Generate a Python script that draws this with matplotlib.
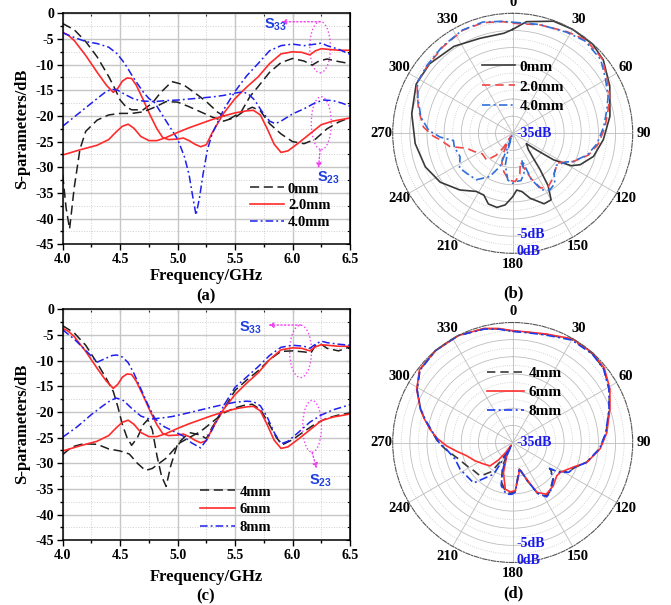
import numpy as np
import matplotlib
matplotlib.use("Agg")
import matplotlib.pyplot as plt
from matplotlib.patches import Ellipse
from matplotlib.ticker import MultipleLocator, FormatStrFormatter

plt.rcParams["font.family"] = ["Liberation Serif", "DejaVu Serif"]
plt.rcParams["font.weight"] = "bold"
plt.rcParams["axes.unicode_minus"] = False
plt.rcParams["mathtext.fontset"] = "custom"
plt.rcParams["mathtext.rm"] = "Liberation Sans:bold"
plt.rcParams["mathtext.it"] = "Liberation Sans:bold"
plt.rcParams["mathtext.bf"] = "Liberation Sans:bold"

# ---------------------------------------------------------------------------
# (a) S-parameters, 0 / 2.0 / 4.0 mm
# ---------------------------------------------------------------------------
a_f_s33_0 = [4.0, 4.1, 4.2, 4.3, 4.4, 4.45, 4.5, 4.55, 4.6, 4.7, 4.78, 4.85, 4.95, 5.05, 5.15,
             5.25, 5.35, 5.45, 5.55, 5.63, 5.7, 5.8, 5.9, 6.0, 6.1, 6.17, 6.23, 6.3, 6.4, 6.5]
a_s33_0 = [-2.0, -3.2, -5.5, -8.5, -12.3, -14.5, -16.9, -18.2, -18.8, -18.8, -17.5, -15.5, -13.3,
           -13.9, -15.5, -17.2, -19.3, -20.6, -19.3, -16.2, -14.3, -11.5, -9.6, -8.8, -9.3, -10.1,
           -9.3, -8.9, -9.4, -9.8]
a_f_s23_0 = [4.0, 4.03, 4.06, 4.1, 4.15, 4.2, 4.3, 4.4, 4.5, 4.6, 4.7, 4.8, 4.9, 5.0, 5.1, 5.2,
             5.3, 5.4, 5.5, 5.58, 5.65, 5.72, 5.8, 5.9, 6.0, 6.1, 6.2, 6.3, 6.4, 6.5]
a_s23_0 = [-31.5, -38.0, -42.0, -34.0, -26.5, -23.0, -20.8, -19.8, -19.5, -19.5, -19.2, -18.3,
           -17.2, -17.3, -18.2, -19.2, -20.2, -21.0, -20.3, -19.0, -18.3, -19.0, -21.5, -23.5,
           -25.0, -25.4, -24.5, -22.5, -21.2, -20.3]

# 2.0 mm in (a) and 6 mm in (c) are the same curve
f_s33_2 = [4.0, 4.05, 4.1, 4.2, 4.3, 4.38, 4.44, 4.48, 4.52, 4.56, 4.6, 4.64, 4.7, 4.76, 4.82,
           4.87, 4.92, 5.0, 5.05, 5.1, 5.15, 5.2, 5.25, 5.3, 5.4, 5.5, 5.6, 5.7, 5.8, 5.9, 6.0,
           6.08, 6.15, 6.2, 6.25, 6.3, 6.4, 6.5]
s33_2 = [-3.7, -4.3, -5.3, -8.2, -11.5, -14.0, -15.4, -14.6, -13.2, -12.6, -12.7, -14.0, -16.8,
         -19.8, -22.5, -24.2, -24.6, -24.5, -24.3, -24.8, -25.5, -26.0, -25.6, -23.3, -19.5,
         -16.6, -14.4, -12.4, -9.8, -7.9, -7.5, -7.6, -8.1, -7.3, -6.9, -7.0, -7.2, -7.2]
f_s23_2 = [4.0, 4.15, 4.3, 4.4, 4.47, 4.52, 4.57, 4.62, 4.68, 4.75, 4.82, 4.9, 5.0, 5.1, 5.2,
           5.3, 5.4, 5.5, 5.6, 5.66, 5.72, 5.78, 5.84, 5.9, 5.96, 6.05, 6.15, 6.25, 6.35, 6.5]
s23_2 = [-27.6, -26.6, -25.7, -24.6, -23.0, -22.0, -21.6, -22.4, -24.0, -24.8, -24.8, -24.2,
         -23.2, -22.3, -21.5, -20.7, -20.0, -19.4, -19.0, -18.9, -19.8, -22.5, -25.5, -27.1,
         -26.8, -25.3, -23.5, -21.7, -21.0, -20.4]

a_f_s33_4 = [4.0, 4.1, 4.2, 4.3, 4.4, 4.47, 4.52, 4.56, 4.6, 4.65, 4.7, 4.75, 4.8, 4.9, 5.0,
             5.06, 5.1, 5.13, 5.16, 5.19, 5.22, 5.26, 5.3, 5.4, 5.5, 5.6, 5.7, 5.8, 5.9, 6.0,
             6.1, 6.2, 6.25, 6.3, 6.4, 6.5]
a_s33_4 = [-3.8, -4.7, -5.5, -5.9, -6.6, -7.8, -9.2, -10.5, -12.0, -13.7, -15.3, -16.6, -17.4,
           -21.0, -24.5, -28.0, -31.5, -35.5, -39.3, -36.0, -31.5, -26.5, -23.5, -18.8, -15.2,
           -12.2, -9.8, -7.3, -6.3, -6.0, -6.3, -6.0, -5.8, -6.3, -7.0, -8.0]
a_f_s23_4 = [4.0, 4.1, 4.2, 4.3, 4.38, 4.43, 4.48, 4.55, 4.62, 4.7, 4.8, 4.9, 5.0, 5.1, 5.2,
             5.3, 5.4, 5.48, 5.57, 5.62, 5.67, 5.73, 5.8, 5.85, 5.9, 6.0, 6.1, 6.2, 6.27, 6.35,
             6.43, 6.5]
a_s23_4 = [-22.0, -20.2, -18.4, -16.6, -15.2, -14.8, -15.0, -15.9, -16.7, -17.1, -17.2, -17.0,
           -16.9, -16.7, -16.5, -16.3, -16.0, -15.6, -15.3, -15.8, -16.9, -19.0, -21.0, -21.5,
           -21.0, -19.6, -18.6, -17.4, -16.9, -17.0, -17.5, -18.1]

# ---------------------------------------------------------------------------
# (c) S-parameters, 4 / 6 / 8 mm
# ---------------------------------------------------------------------------
c_f_s33_4 = [4.0, 4.1, 4.2, 4.3, 4.38, 4.44, 4.48, 4.52, 4.56, 4.6, 4.65, 4.7, 4.74, 4.78, 4.82,
             4.86, 4.9, 4.94, 5.0, 5.1, 5.2, 5.25, 5.3, 5.4, 5.5, 5.6, 5.7, 5.8, 5.9, 6.0, 6.1,
             6.16, 6.2, 6.25, 6.3, 6.4, 6.5]
c_s33_4 = [-3.2, -4.6, -7.0, -10.5, -13.5, -16.0, -19.0, -22.5, -25.0, -26.5, -25.0, -22.5,
           -21.5, -23.5, -28.5, -32.5, -34.5, -30.5, -26.2, -24.0, -24.5, -25.2, -23.0, -19.5,
           -15.8, -13.8, -12.0, -9.8, -8.2, -8.1, -8.3, -8.5, -7.0, -6.8, -7.6, -8.1, -7.3]
c_f_s23_4 = [4.0, 4.08, 4.18, 4.3, 4.4, 4.5, 4.58, 4.65, 4.72, 4.78, 4.84, 4.9, 4.96, 5.02, 5.1,
             5.2, 5.3, 5.4, 5.5, 5.58, 5.65, 5.72, 5.8, 5.86, 5.91, 6.0, 6.1, 6.2, 6.3, 6.4, 6.5]
c_s23_4 = [-28.3, -26.8, -26.2, -26.3, -27.2, -27.6, -28.2, -30.0, -31.4, -31.0, -30.0, -29.0,
           -27.5, -26.0, -25.0, -23.8, -22.0, -20.2, -19.2, -18.7, -18.5, -19.5, -22.5, -25.0,
           -26.4, -25.4, -23.8, -22.3, -21.2, -20.6, -20.2]
c_f_s33_8 = [4.0, 4.1, 4.2, 4.3, 4.37, 4.43, 4.47, 4.52, 4.57, 4.62, 4.68, 4.74, 4.8, 4.86, 4.95,
             5.05, 5.12, 5.2, 5.25, 5.3, 5.4, 5.5, 5.6, 5.7, 5.8, 5.9, 6.0, 6.1, 6.15, 6.2, 6.25,
             6.3, 6.4, 6.5]
c_s33_8 = [-4.0, -5.8, -8.0, -10.3, -9.6, -9.0, -8.9, -9.3, -10.4, -12.5, -15.5, -18.5, -21.2,
           -22.6, -23.6, -24.7, -26.0, -27.0, -25.5, -23.5, -18.8, -15.2, -13.2, -11.2, -9.0,
           -7.4, -7.0, -7.2, -7.6, -6.8, -6.2, -6.5, -6.8, -7.0]
c_f_s23_8 = [4.0, 4.12, 4.25, 4.35, 4.42, 4.47, 4.53, 4.6, 4.68, 4.76, 4.85, 4.95, 5.05, 5.2,
             5.35, 5.5, 5.6, 5.66, 5.72, 5.78, 5.84, 5.9, 5.96, 6.05, 6.15, 6.25, 6.35, 6.5]
c_s23_8 = [-24.9, -23.0, -20.5, -18.8, -17.7, -17.3, -17.8, -19.3, -20.8, -21.4, -21.2, -20.9,
           -20.4, -19.6, -18.8, -18.1, -17.9, -18.0, -18.8, -21.0, -24.0, -26.2, -25.7, -24.0,
           -22.0, -20.6, -19.6, -18.6]

# ---------------------------------------------------------------------------
# (b) radiation patterns (deg clockwise from top, dB)
# ---------------------------------------------------------------------------
b_ang_0 = [0, 7, 20, 30, 42, 51, 64, 80, 94, 106, 115, 119, 123, 125, 127, 136, 140, 143, 146,
           150, 156, 165, 171, 176, 180, 186, 192, 199, 205, 212, 223, 236, 249, 264, 281, 297,
           310, 326, 341, 355, 360]
b_db_0 = [-4.7, -2.2, -0.2, 0.0, -0.1, -1.0, -3.5, -6.2, -8.5, -10.5, -13.3, -15.5, -20.8,
          -26.5, -30.0, -28.5, -26.0, -21.7, -16.5, -12.6, -12.5, -15.4, -17.8, -18.4, -16.5,
          -14.0, -12.9, -13.2, -15.1, -15.0, -12.4, -9.5, -7.7, -6.4, -5.0, -3.4, -3.4, -4.4,
          -5.7, -5.7, -4.7]
b_ang_2 = [0, 14, 28, 38, 50, 59, 69, 76, 86, 97, 106, 115, 121, 124, 132, 140, 147, 153, 158,
           162, 165, 170, 177, 185, 193, 200, 205, 209, 211, 213, 217, 224, 236, 245, 252, 258,
           265, 268, 274, 284, 290, 298, 308, 321, 334, 345, 355, 360]
b_db_2 = [-2.9, -2.4, -1.4, -0.4, -1.0, -3.0, -4.7, -6.3, -8.0, -9.8, -12.0, -15.5, -18.5,
          -19.4, -18.4, -17.2, -16.2, -17.1, -20.8, -24.5, -26.4, -23.0, -20.9, -21.3, -23.5,
          -25.7, -28.5, -32.0, -34.0, -30.0, -27.0, -24.1, -24.3, -22.5, -20.9, -16.3, -13.7,
          -11.8, -8.9, -6.7, -5.5, -3.4, -3.3, -2.6, -1.6, -1.6, -2.3, -2.9]
b_ang_4 = [0, 14, 28, 38, 50, 59, 69, 76, 86, 97, 106, 115, 118, 126, 134, 140, 147, 153, 158,
           161, 164, 170, 177, 180, 186, 193, 196, 198, 200, 201, 208, 218, 229, 237, 246, 257,
           263, 267, 272, 280, 290, 298, 308, 321, 334, 345, 355, 360]
b_db_4 = [-2.6, -2.3, -1.6, -0.8, -1.5, -3.5, -5.2, -6.7, -8.4, -10.2, -12.3, -15.5, -17.2,
          -19.2, -18.2, -15.9, -15.2, -16.5, -20.5, -26.8, -23.0, -21.0, -20.9, -20.4, -21.3,
          -25.5, -30.0, -34.5, -29.8, -24.6, -20.7, -17.8, -17.2, -16.5, -18.2, -17.5, -17.6,
          -13.8, -10.5, -7.8, -5.6, -3.5, -3.1, -2.4, -1.5, -1.4, -2.2, -2.6]

# ---------------------------------------------------------------------------
# (d) radiation patterns
# ---------------------------------------------------------------------------
d_ang_4 = [0, 7, 17, 30, 42, 51, 61, 71, 84, 94, 105, 112, 118, 123, 125, 132, 143, 148, 154,
           159, 163, 166, 170, 177, 182, 188, 196, 203, 207, 209, 212, 216, 224, 234, 243, 254,
           263, 270, 279, 285, 290, 299, 308, 320, 333, 346, 353, 360]
d_db_4 = [-2.5, -2.6, -2.0, -0.3, -0.2, -0.8, -2.8, -5.2, -7.6, -9.5, -12.7, -15.5, -16.7,
          -19.5, -21.5, -19.2, -17.0, -16.6, -18.5, -23.0, -25.8, -27.0, -25.5, -20.8, -20.2,
          -20.4, -23.0, -27.5, -32.0, -34.0, -29.0, -24.5, -21.4, -21.0, -20.0, -18.3, -15.7,
          -13.3, -10.8, -8.4, -6.4, -3.1, -0.6, 0.0, 0.0, -0.8, -1.6, -2.5]
d_ang_6 = [0, 7, 17, 30, 42, 51, 61, 71, 84, 94, 105, 112, 122, 127, 137, 147, 154, 159, 166,
           170, 177, 183, 189, 197, 204, 210, 215, 219, 224, 234, 244, 254, 261, 267, 273, 279,
           285, 290, 299, 308, 320, 333, 346, 353, 360]
d_db_6 = [-2.4, -2.5, -1.9, -0.1, 0.0, -0.6, -2.6, -5.0, -7.4, -9.4, -12.6, -15.9, -18.6,
          -18.9, -17.7, -17.0, -18.8, -23.5, -26.9, -25.1, -20.9, -20.6, -21.2, -25.8, -30.7,
          -34.0, -31.5, -28.5, -25.5, -24.4, -22.8, -21.0, -18.5, -15.7, -13.0, -10.6, -8.3,
          -6.3, -3.0, -0.5, 0.0, 0.0, -0.7, -1.5, -2.4]
d_ang_8 = [0, 7, 17, 30, 42, 51, 61, 71, 84, 94, 105, 112, 118, 123, 125, 132, 143, 148, 154,
           159, 163, 166, 170, 177, 181, 187, 195, 200, 204, 207, 209, 211, 224, 234, 243, 254,
           264, 270, 279, 285, 290, 299, 308, 320, 333, 346, 353, 360]
d_db_8 = [-2.6, -2.7, -2.2, -0.5, -0.3, -0.9, -2.9, -5.3, -7.7, -9.6, -12.7, -15.5, -16.5,
          -19.0, -21.9, -19.0, -16.8, -16.3, -18.5, -23.0, -26.0, -27.2, -25.5, -20.5, -19.9,
          -19.8, -22.0, -26.5, -30.5, -34.0, -30.0, -24.2, -18.6, -18.4, -17.8, -17.5, -15.6,
          -13.5, -10.9, -8.5, -6.4, -3.1, -0.7, 0.0, 0.0, -0.9, -1.7, -2.6]

ANGLE_TICKS = list(range(0, 360, 30))

BLACK, RED, BLUE = "#1e1e1e", "#ff2a2a", "#1f1fef"
PBLACK, PRED, PBLUE = "#3a3a3a", "#f04646", "#2f6fd8"
MAG = "#f040f0"
DASH = (0, (6, 3))
DASHDOT = (0, (5, 2, 1.2, 2))

W, H = 671, 605
fig = plt.figure(figsize=(W / 100, H / 100), dpi=100)


def rect(left, top, w, h):
    return [left / W, 1 - (top + h) / H, w / W, h / H]


def cart_axes(top):
    ax = fig.add_axes(rect(62.7, top, 287.3, 231))
    ax.set_xlim(4.0, 6.5)
    ax.set_ylim(-45, 0)
    ax.xaxis.set_major_locator(MultipleLocator(0.5))
    ax.xaxis.set_minor_locator(MultipleLocator(0.25))
    ax.yaxis.set_major_locator(MultipleLocator(5))
    ax.yaxis.set_minor_locator(MultipleLocator(2.5))
    ax.xaxis.set_major_formatter(FormatStrFormatter("%.1f"))
    ax.grid(which="major", color="#c6c6c6", lw=1.0)
    ax.grid(which="minor", color="#cfcfcf", lw=0.7, ls=":")
    ax.set_axisbelow(True)
    ax.tick_params(which="both", direction="out", labelsize=10, width=1, pad=2)
    ax.tick_params(which="major", length=4)
    ax.tick_params(which="minor", length=2.5)
    for s in ax.spines.values():
        s.set_linewidth(1.1)
    top_ax = ax.secondary_xaxis("top")
    top_ax.xaxis.set_major_locator(MultipleLocator(0.5))
    top_ax.xaxis.set_minor_locator(MultipleLocator(0.25))
    top_ax.tick_params(which="both", direction="in", labeltop=False, width=0.8)
    top_ax.tick_params(which="major", length=3)
    top_ax.tick_params(which="minor", length=2)
    right_ax = ax.secondary_yaxis("right")
    right_ax.yaxis.set_major_locator(MultipleLocator(5))
    right_ax.yaxis.set_minor_locator(MultipleLocator(2.5))
    right_ax.tick_params(which="both", direction="in", labelright=False, width=0.8)
    right_ax.tick_params(which="major", length=3)
    right_ax.tick_params(which="minor", length=2)
    return ax


def s_label(ax, x, y, sub):
    ax.text(x, y, "S$_{" + sub + "}$", color="#1f3fe0", fontsize=10.5,
            family="Liberation Sans", weight="bold", ha="center", va="center")


def marks(ax, e33, a33, t33, e23, a23, t23):
    for (cx, cy, w, h) in (e33, e23):
        ax.add_patch(Ellipse((cx, cy), w, h, fill=False, ec=MAG, ls=":", lw=1.0))
    for (tail, head) in (a33, a23):
        ax.annotate("", xy=head, xytext=tail,
                    arrowprops=dict(arrowstyle="-|>", color=MAG, lw=1.0, ls=":",
                                    mutation_scale=7, shrinkA=0, shrinkB=0))
    s_label(ax, t33[0], t33[1], "33")
    s_label(ax, t23[0], t23[1], "23")


def polar_axes(cy):
    ax = fig.add_axes(rect(392.7, cy - 120, 240, 240), projection="polar")
    ax.set_theta_zero_location("N")
    ax.set_theta_direction(-1)
    ax.set_ylim(-35, 0)
    ax.set_yticks([-30, -25, -20, -15, -10, -5])
    ax.set_yticks(np.arange(-32.5, 0, 5), minor=True)
    ax.set_yticklabels([])
    ax.set_xticks(np.deg2rad(ANGLE_TICKS))
    ax.set_xticklabels([str(a) for a in ANGLE_TICKS])
    ax.tick_params(axis="x", pad=1, labelsize=10.5, length=0)
    ax.tick_params(axis="y", which="both", length=0)
    ax.xaxis.grid(True, color="#bdbdbd", lw=0.6)
    ax.yaxis.grid(True, which="major", color="#bdbdbd", lw=0.6)
    ax.yaxis.grid(True, which="minor", color="#c8c8c8", lw=0.6, ls=":")
    ax.spines["polar"].set_linestyle((0, (4, 1.5, 1, 1.5)))
    ax.spines["polar"].set_color("#555555")
    ax.spines["polar"].set_linewidth(0.8)
    kw = dict(color="#1a1aee", fontsize=10, ha="left", va="center",
              textcoords="offset points")
    ax.annotate("-35dB", xy=(0, -35), xytext=(2.5, 0), **kw)
    ax.annotate("-5dB", xy=(np.pi, -5), xytext=(2.5, 1.5), **kw)
    ax.annotate("0dB", xy=(np.pi, 0), xytext=(2.5, 1.5), **kw)
    return ax


def ppolar(ax, ang, db, **kw):
    ax.plot(np.deg2rad(ang), np.clip(db, -35, 0), lw=1.2, clip_on=False, **kw)


def xy_labels(cx, ybottom, ymid):
    fig.text(cx / W, 1 - ybottom / H, "Frequency/GHz", fontsize=12, ha="center", va="center")
    fig.text(22 / W, 1 - ymid / H, "S-parameters/dB", fontsize=12, rotation=90,
             ha="center", va="center")


# ---- (a) ----
ax = cart_axes(13.3)
ax.plot(a_f_s33_0, a_s33_0, color=BLACK, ls=DASH, lw=1.1, label="0mm")
ax.plot(f_s33_2, s33_2, color=RED, lw=1.2, label="2.0mm")
ax.plot(a_f_s33_4, a_s33_4, color=BLUE, ls=DASHDOT, lw=1.1, label="4.0mm")
ax.plot(a_f_s23_0, a_s23_0, color=BLACK, ls=DASH, lw=1.1)
ax.plot(f_s23_2, s23_2, color=RED, lw=1.2)
ax.plot(a_f_s23_4, a_s23_4, color=BLUE, ls=DASHDOT, lw=1.1)
marks(ax, (6.24, -6.6, 0.18, 10.0), ((6.24, -1.65), (5.90, -1.65)), (5.855, -2.3),
      (6.25, -21.4, 0.174, 10.3), ((6.24, -26.6), (6.225, -30.2)), (6.31, -32.0))
ax.legend(loc="upper left", bbox_to_anchor=(0.652, 0.268), frameon=False, fontsize=10.5,
          handlelength=2.3, handletextpad=0.3, labelspacing=0.25, borderpad=0,
          borderaxespad=0)
xy_labels(206, 276, 129)
fig.text(206 / W, 1 - 296 / H, "(a)", fontsize=12, ha="center", va="center")

# ---- (c) ----
ax = cart_axes(309.3)
ax.plot(c_f_s33_4, c_s33_4, color=BLACK, ls=DASH, lw=1.1, label="4mm")
ax.plot(f_s33_2, s33_2, color=RED, lw=1.2, label="6mm")
ax.plot(c_f_s33_8, c_s33_8, color=BLUE, ls=DASHDOT, lw=1.1, label="8mm")
ax.plot(c_f_s23_4, c_s23_4, color=BLACK, ls=DASH, lw=1.1)
ax.plot(f_s23_2, s23_2, color=RED, lw=1.2)
ax.plot(c_f_s23_8, c_s23_8, color=BLUE, ls=DASHDOT, lw=1.1)
marks(ax, (6.07, -8.2, 0.19, 10.2), ((6.07, -3.07), (5.79, -3.07)), (5.63, -3.7),
      (6.17, -22.8, 0.163, 10.1), ((6.17, -27.9), (6.21, -31.0)), (6.24, -33.4))
ax.legend(loc="upper left", bbox_to_anchor=(0.478, 0.238), frameon=False, fontsize=10.5,
          handlelength=2.4, handletextpad=0.3, labelspacing=0.3, borderpad=0,
          borderaxespad=0)
xy_labels(206, 577, 424)
fig.text(206 / W, 1 - 596 / H, "(c)", fontsize=12, ha="center", va="center")

# ---- (b) ----
ax = polar_axes(133.3)
ppolar(ax, b_ang_0, b_db_0, color=PBLACK, label="0mm")
ppolar(ax, b_ang_2, b_db_2, color=PRED, ls=(0, (5, 3)), label="2.0mm")
ppolar(ax, b_ang_4, b_db_4, color=PBLUE, ls=DASHDOT, label="4.0mm")
ax.legend(loc="upper left", bbox_to_anchor=(0.372, 0.805), frameon=False, fontsize=11,
          handlelength=2.15, handletextpad=0.3, labelspacing=0.4, borderpad=0,
          borderaxespad=0)
fig.text(513 / W, 1 - 293 / H, "(b)", fontsize=12, ha="center", va="center")

# ---- (d) ----
ax = polar_axes(442.5)
ppolar(ax, d_ang_4, d_db_4, color=PBLACK, ls=(0, (5, 3)), label="4mm")
ppolar(ax, d_ang_6, d_db_6, color="#ff3030", label="6mm")
ppolar(ax, d_ang_8, d_db_8, color="#1c3cf0", ls=DASHDOT, label="8mm")
ax.legend(loc="upper left", bbox_to_anchor=(0.393, 0.818), frameon=False, fontsize=11,
          handlelength=2.4, handletextpad=0.3, labelspacing=0.35, borderpad=0,
          borderaxespad=0)
fig.text(513 / W, 1 - 593 / H, "(d)", fontsize=12, ha="center", va="center")

fig.savefig("out.png", dpi=100)
